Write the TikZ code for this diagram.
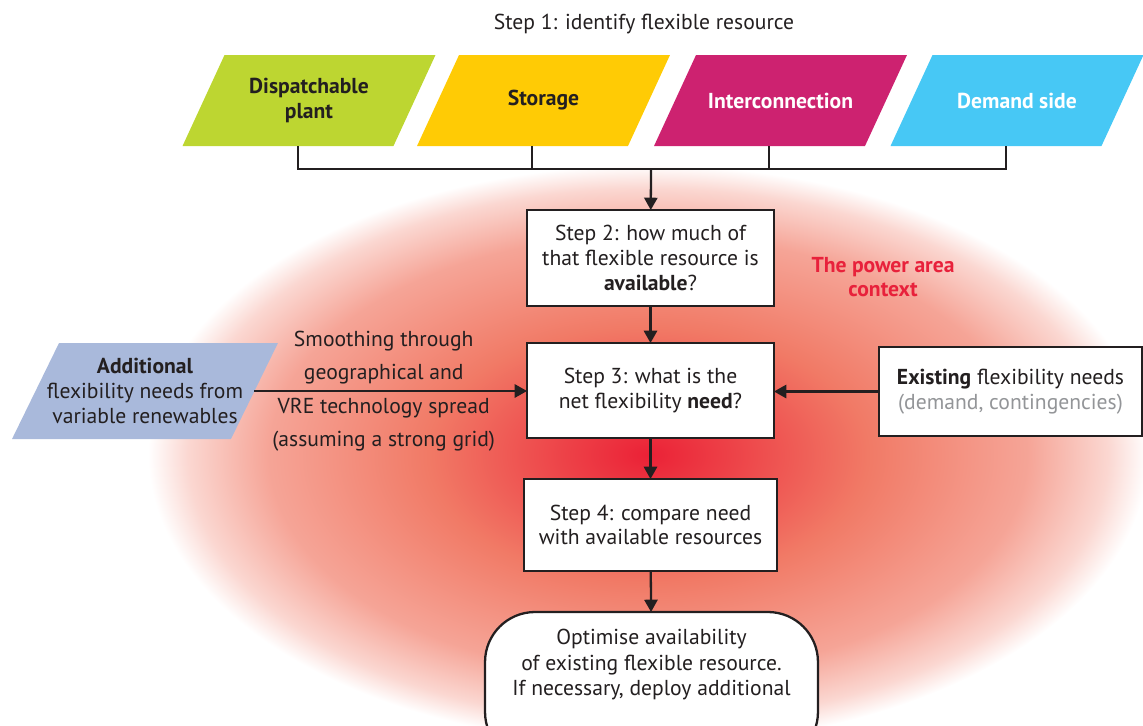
\documentclass[tikz,border=0pt]{standalone}
\usepackage{fontspec}
\setmainfont{PT Sans}
\usepackage{tikz}
\usetikzlibrary{shapes,arrows.meta,calc}

\definecolor{inkdark}{HTML}{231F20}
\definecolor{plantgreen}{HTML}{BDD631}
\definecolor{storeyellow}{HTML}{FFCB05}
\definecolor{linkmagenta}{HTML}{CD2270}
\definecolor{demandcyan}{HTML}{47C8F5}
\definecolor{vreblue}{HTML}{A9B9DB}
\definecolor{contextred}{HTML}{E8213B}
\definecolor{softgrey}{HTML}{939598}
\definecolor{glowcore}{HTML}{EB2136}
\definecolor{glowmid}{HTML}{F17A66}

\pgfdeclareradialshading{powerglow}{\pgfpoint{0bp}{0bp}}{color(0bp)=(glowcore); color(4bp)=(glowcore!65!glowmid); color(11bp)=(glowmid); color(19bp)=(glowmid!68!white); color(23bp)=(glowmid!30!white); color(25bp)=(white); color(50bp)=(white)}

\begin{document}
\begin{tikzpicture}[x=0.02cm, y=-0.02cm,
  every node/.style={font=\fontsize{12.3}{14}\selectfont, text=inkdark},
  resource/.style n args={2}{rectangle, minimum width=5.06cm, minimum height=1.82cm,
    inner sep=0pt, outer sep=0pt, align=center, font=\fontsize{12.3}{14}\selectfont\bfseries,
    path picture={\fill[#1] (path picture bounding box.south west)
      -- ($(path picture bounding box.north west)+(#2,0)$)
      -- (path picture bounding box.north east)
      -- ($(path picture bounding box.south east)-(#2,0)$) -- cycle;}},
  stepbox/.style={draw=inkdark, line width=1.3pt, fill=white, align=center, inner sep=0pt, outer sep=0pt},
  wire/.style={draw=inkdark, line width=1.3pt},
  arrow/.style={wire, -{Triangle[length=7pt,width=7.5pt]}},
  spread/.style={align=center, font=\fontsize{12.3}{18.8}\selectfont}]
\useasboundingbox (0,0) rectangle (1143,725);
\clip (0,0) rectangle (1143,725);

% power area context glow
\shade[shading=powerglow] (648,455) ellipse [x radius=10cm, y radius=5.8cm];

% step 1 : the four flexible resources
\node (title) at (644,24) {Step 1: identify flexible resource};
\node[resource={plantgreen}{0.84cm}] (plant) at (309,100.5) {Dispatchable\\plant};
\node[resource={storeyellow}{0.84cm}] (store) at (543.5,100.5) {Storage};
\node[resource={linkmagenta}{0.84cm}, text=white] (link) at (780.5,100.5) {Interconnection};
\node[resource={demandcyan}{0.84cm}, text=white] (demand) at (1017,100.5) {Demand side};

\coordinate (bus) at (651,169);
\draw[wire] ($(plant.center)+(-11,45.5)$) |- (bus) -| ($(demand.center)+(-11,45.5)$);
\draw[wire] ($(store.center)+(-11.5,45.5)$) -- ++(0,23);
\draw[wire] ($(link.center)+(-11.5,45.5)$) -- ++(0,23);

% steps 2 to 4
\node[stepbox, minimum width=4.94cm, minimum height=1.92cm] (avail) at (650.5,258)
  {Step 2: how much of\\that flexible resource is\\\textbf{available}?};
\node[stepbox, minimum width=4.94cm, minimum height=1.9cm] (need) at (650.5,390.5)
  {Step 3: what is the\\net flexibility \textbf{need}?};
\node[stepbox, minimum width=5.06cm, minimum height=1.84cm] (compare) at (650.5,525)
  {Step 4: compare need\\with available resources};
\node[stepbox, rounded corners=1cm, minimum width=6.66cm, minimum height=3cm,
  anchor=north, text depth=0.98cm, font=\fontsize{12.3}{14.4}\selectfont] (optimise) at (651.5,612)
  {Optimise availability\\of existing flexible resource.\\If necessary, deploy additional};

\node[text=contextred, align=center, font=\fontsize{12.3}{14}\selectfont\bfseries] (context) at (883,277)
  {The power area\\context};

% side inputs
\node[resource={vreblue}{0.94cm}, minimum width=5.32cm, minimum height=1.92cm,
  font=\fontsize{12.3}{14}\selectfont] (addl) at (145,391)
  {\textbf{Additional}\\flexibility needs from\\variable renewables};
\node[stepbox, minimum width=5.26cm, minimum height=1.78cm] (exist) at (1010.5,391.5)
  {\textbf{Existing} flexibility needs\\\textcolor{softgrey}{(demand, contingencies)}};

% arrows
\draw[arrow] ([xshift=-0.47cm]addl.east) -- (addl.east -| need.west)
  node[midway, above, spread, xshift=-4] {Smoothing through\\geographical and}
  node[midway, below, spread, xshift=-4] {VRE technology spread\\(assuming a strong grid)};
\draw[arrow] (exist.west) -- (exist.west -| need.east);
\draw[arrow] (bus) -- (avail);
\draw[arrow] (avail) -- (need);
\draw[arrow] (need) -- (compare);
\draw[arrow] (compare) -- (optimise);
\end{tikzpicture}
\end{document}
